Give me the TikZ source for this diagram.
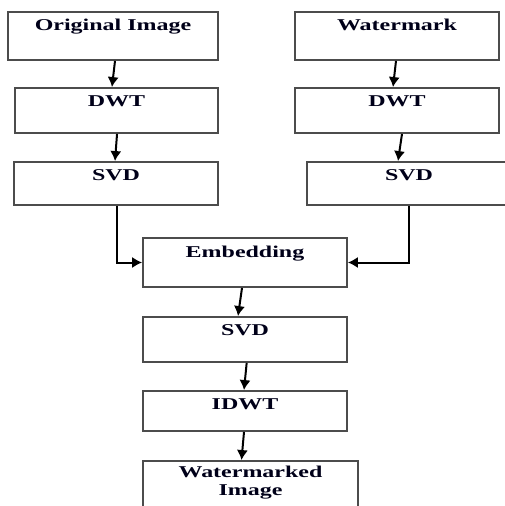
\documentclass[tikz,border=0pt]{standalone}
\usepackage{fontspec}
\setmainfont{Liberation Serif}
\newfontfamily\lblfont[FakeStretch=1.45]{Liberation Serif}
\usetikzlibrary{arrows.meta}
\begin{document}
\begin{tikzpicture}[x=0.75pt,y=-0.75pt,
  box/.style={draw=black!70,line width=1.4pt,fill=white,inner sep=0pt},
  lbl/.style={font=\lblfont\bfseries\fontsize{12.4pt}{13.5pt}\selectfont,text=black!90!blue,inner sep=0pt,anchor=base},
  arr/.style={draw=black,line width=1.5pt,-{Latex[length=7.5pt,width=8.5pt]}}]
\useasboundingbox (0,0) rectangle (505,506);
\clip (0,0) rectangle (505,506);
% boxes
\node[box,minimum width=157.5pt,minimum height=36pt] (oi) at (113,36) {};
\node[box,minimum width=153pt,minimum height=36pt] (wm) at (397,36) {};
\node[box,minimum width=152.25pt,minimum height=33.75pt] (dwt1) at (116.5,110.5) {};
\node[box,minimum width=153pt,minimum height=33.75pt] (dwt2) at (397,110.5) {};
\node[box,minimum width=153pt,minimum height=32.25pt] (svd1) at (116,183.5) {};
\node[box,minimum width=153pt,minimum height=32.25pt] (svd2) at (409,183.5) {};
\node[box,minimum width=153pt,minimum height=36.75pt] (emb) at (245,262.5) {};
\node[box,minimum width=153pt,minimum height=33.75pt] (svd3) at (245,339.5) {};
\node[box,minimum width=153pt,minimum height=30pt] (idwt) at (245,411) {};
\node[box,minimum width=161.25pt,minimum height=45pt] (wmi) at (250.5,491) {};
% labels
\node[lbl] (toi) at ([yshift=-14.25pt]oi.north) {Original Image};
\node[lbl] (twm) at ([yshift=-14.25pt]wm.north) {Watermark};
\node[lbl] (tdwt1) at ([yshift=-14.25pt]dwt1.north) {DWT};
\node[lbl] (tdwt2) at ([yshift=-14.25pt]dwt2.north) {DWT};
\node[lbl] (tsvd1) at ([yshift=-14.25pt]svd1.north) {SVD};
\node[lbl] (tsvd2) at ([yshift=-14.25pt]svd2.north) {SVD};
\node[lbl] (temb) at ([yshift=-15pt]emb.north) {Embedding};
\node[lbl] (tsvd3) at ([yshift=-14.25pt]svd3.north) {SVD};
\node[lbl] (tidwt) at ([yshift=-14.25pt]idwt.north) {IDWT};
\node[lbl,anchor=north,align=center] (twmi) at ([yshift=-4.5pt]wmi.north) {Watermarked\\Image};
% connectors
\draw[arr] ([xshift=1.5pt]oi.south) -- ([xshift=-3.4pt]dwt1.north);
\draw[arr] ([xshift=-0.75pt]wm.south) -- ([xshift=-3pt]dwt2.north);
\draw[arr] ([xshift=0.4pt]dwt1.south) -- ([xshift=-0.75pt]svd1.north);
\draw[arr] ([xshift=3.75pt]dwt2.south) -- ([xshift=-8.25pt]svd2.north);
\draw[arr] ([xshift=0.75pt]svd1.south) |- (emb.west);
\draw[arr] (svd2.south) |- (emb.east);
\draw[arr] ([xshift=-2.25pt]emb.south) -- ([xshift=-5.25pt]svd3.north);
\draw[arr] ([xshift=1.25pt]svd3.south) -- ([xshift=-0.75pt]idwt.north);
\draw[arr] ([xshift=-0.75pt]idwt.south) -- ([xshift=-6.75pt]wmi.north);
\end{tikzpicture}
\end{document}
